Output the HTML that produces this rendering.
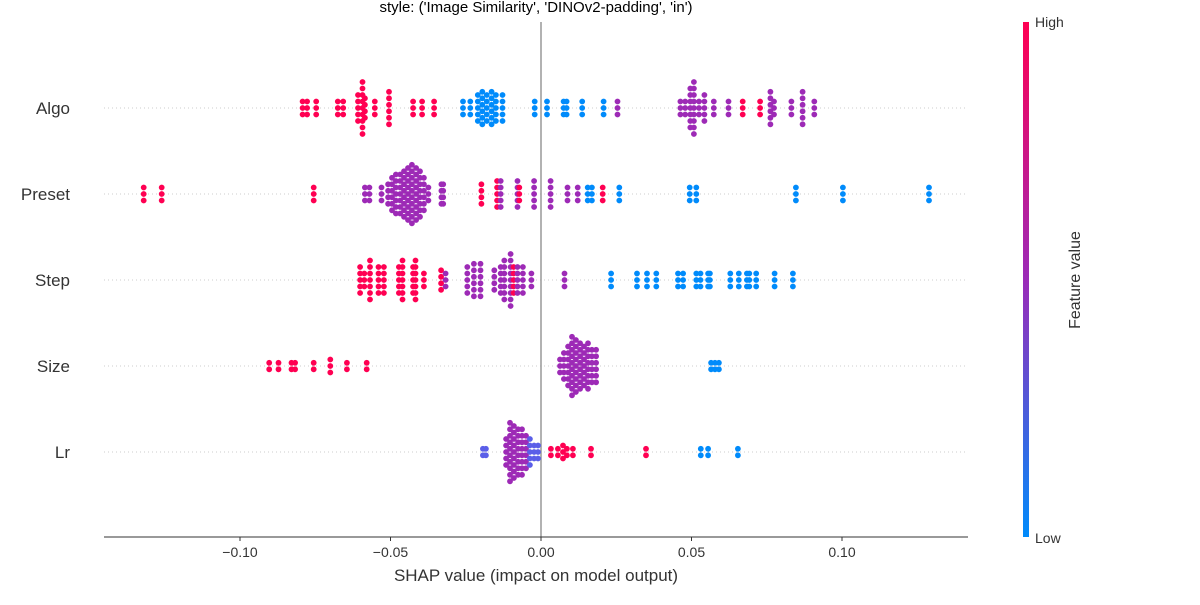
<!DOCTYPE html>
<html><head><meta charset="utf-8">
<style>
html,body{margin:0;padding:0;background:#fff;}
svg text{font-family:"Liberation Sans",sans-serif;}
</style></head>
<body>
<svg id="chart" width="1200" height="600" viewBox="0 0 1200 600" xmlns="http://www.w3.org/2000/svg">
<defs>
<linearGradient id="cbar" x1="0" y1="1" x2="0" y2="0">
<stop offset="0" stop-color="#008bfb"/>
<stop offset="0.5" stop-color="#9b2bb8"/>
<stop offset="1" stop-color="#ff0052"/>
</linearGradient>
</defs>
<text x="536" y="12" font-size="15" text-anchor="middle" fill="#000">style: ('Image Similarity', 'DINOv2-padding', 'in')</text>
<g id="grid"></g>
<line x1="541" y1="22" x2="541" y2="537" stroke="#999" stroke-width="1.5"/>
<g id="dots"></g>
<g id="axis"></g>
<rect x="1023" y="22" width="6" height="515" fill="url(#cbar)"/>
<text x="1035" y="27" font-size="14" fill="#333">High</text>
<text x="1035" y="543" font-size="14" fill="#333">Low</text>
<text x="1080" y="280" font-size="16" fill="#333" text-anchor="middle" transform="rotate(-90 1080 280)">Feature value</text>
<text x="536" y="581" font-size="17" fill="#333" text-anchor="middle">SHAP value (impact on model output)</text>
</svg>
<script>
const features = ["Algo","Preset","Step","Size","Lr"];
const xTicks = [-0.10,-0.05,0.00,0.05,0.10];
const xTickLabels = ["\u22120.10","\u22120.05","0.00","0.05","0.10"];

const algoX = [-0.0792,-0.0777,-0.0747,-0.0675,-0.0657,-0.0608,-0.0593,-0.0585,-0.0552,-0.0505,-0.0425,-0.0395,-0.0355,
 -0.0259,-0.0235,-0.0210,-0.0195,-0.0180,-0.0164,-0.0150,-0.0128,-0.0021,0.0020,0.0075,0.0085,0.0137,0.0208,0.0254,
 0.0463,0.0479,0.0496,0.0508,0.0525,0.0543,0.0574,0.0623,0.0670,0.0728,0.0762,0.0774,0.0832,0.0869,0.0908];
const algoN = [3,3,3,3,3,5,9,4,3,6,3,3,3, 3,3,5,6,5,6,5,5,3,3,3,3,3,3,3, 3,3,7,9,3,5,3,3,3,3,6,3,3,6,3];
const algoC = "rrrrrrrrrrrrr"+"bbbbbbbbbbbbbbp"+"pppppppprrppppp";

const presetX = [-0.132,-0.126,-0.0755,-0.0585,-0.0570,-0.0530,-0.0508,-0.0495,-0.0482,-0.0468,-0.0455,-0.0442,-0.0429,-0.0415,-0.0402,-0.0389,
 -0.0374,-0.0331,-0.0325,-0.0198,-0.0146,-0.0134,-0.0078,-0.0072,-0.0023,0.0032,0.0088,0.0122,0.0155,0.0169,0.0205,0.0260,0.0494,0.0516,0.0847,0.1003,0.1289];
const presetN = [3,3,3,3,3,3,4,6,7,7,8,9,10,9,8,6, 3,4,4,4,5,5,5,3,5,5,3,3,3,3,3,3,3,3,3,3,3];
const presetC = "rrrppppppppppppp"+"ppprrpprppppbbrbbbbbbbb";

const stepX = [-0.0601,-0.0587,-0.0568,-0.0540,-0.0522,-0.0472,-0.0460,-0.0425,-0.0417,-0.0389,-0.0332,-0.0317,-0.0245,-0.0223,-0.0201,-0.0155,-0.0134,-0.0122,-0.0101,-0.0091,-0.0078,-0.0060,-0.0032,0.0078,
 0.0233,0.0319,0.0352,0.0383,0.0455,0.0472,0.0516,0.0530,0.0555,0.0561,0.0629,0.0657,0.0684,0.0692,0.0715,0.0776,0.0837];
const stepN = [5,3,7,5,5,5,7,5,7,3,4,3,5,6,6,4,5,7,9,5,5,5,3,3, 3,3,3,3,3,3,3,3,3,3,3,3,3,3,3,3,3];
const stepC = "rrrrrrrrrrrpppppppprpppp"+"bbbbbbbbbbbbbbbbb";

const sizeX = [-0.0903,-0.0872,-0.0829,-0.0817,-0.0755,-0.0700,-0.0645,-0.0579,
 0.0063,0.0076,0.0090,0.0103,0.0116,0.0130,0.0143,0.0156,0.0169,0.0183, 0.0565,0.0578,0.0591];
const sizeN = [2,2,2,2,2,3,2,2, 3,5,7,10,9,8,7,8,6,6, 2,2,2];
const sizeC = "rrrrrrrr"+"pppppppppp"+"bbb";

const lrX = [-0.0193,-0.0183,-0.0116,-0.0103,-0.0090,-0.0076,-0.0063,-0.0050,-0.0037,-0.0023,-0.0010,
 0.0033,0.0056,0.0073,0.0086,0.0106,0.0166,0.0349,0.0531,0.0555,0.0654];
const lrN = [2,2,5,10,9,8,8,6,5,3,3, 2,2,3,2,2,2,2,2,2,2];
const lrC = "iippppppiii"+"rrrrrrrbbb";

const seriesX=[algoX,presetX,stepX,sizeX,lrX];
const seriesN=[algoN,presetN,stepN,sizeN,lrN];
const seriesC=[algoC,presetC,stepC,sizeC,lrC];

const NS="http://www.w3.org/2000/svg";
const xScale=v=>541+v*3010;
const rowY=i=>108+i*86;
const colorMap={r:"#ff0052",p:"#9d2ab6",b:"#008bfb",i:"#5a5ee8"};
const grid=document.getElementById('grid'), dots=document.getElementById('dots'), axis=document.getElementById('axis');

features.forEach((f,i)=>{
  const y=rowY(i);
  const g=document.createElementNS(NS,'line');
  g.setAttribute('x1',104);g.setAttribute('x2',968);g.setAttribute('y1',y);g.setAttribute('y2',y);
  g.setAttribute('stroke','#ccc');g.setAttribute('stroke-dasharray','1,3');g.setAttribute('stroke-width','1');
  
  
  grid.appendChild(g);
  const t=document.createElementNS(NS,'text');
  t.setAttribute('x',70);t.setAttribute('y',y+6);t.setAttribute('text-anchor','end');
  t.setAttribute('font-size','17');t.setAttribute('fill','#333');t.textContent=f;
  
  
  axis.appendChild(t);
  const xs=seriesX[i], ns=seriesN[i], cs=seriesC[i];
  xs.forEach((v,j)=>{
    const n=ns[j], cx=xScale(v);
    for(let k=0;k<n;k++){
      const c=document.createElementNS(NS,'circle');
      c.setAttribute('cx',cx.toFixed(1));
      c.setAttribute('cy',(y+(k-(n-1)/2)*6.5).toFixed(1));
      c.setAttribute('r','2.9');
      c.setAttribute('fill',colorMap[cs[j]]||colorMap.p);
      
      
      dots.appendChild(c);
    }
  });
});

const ax=document.createElementNS(NS,'line');
ax.setAttribute('x1',104);ax.setAttribute('x2',968);ax.setAttribute('y1',537);ax.setAttribute('y2',537);
ax.setAttribute('stroke','#333');ax.setAttribute('stroke-width','1');


axis.appendChild(ax);
xTicks.forEach((v,i)=>{
  const x=xScale(v);
  const tk=document.createElementNS(NS,'line');
  tk.setAttribute('x1',x);tk.setAttribute('x2',x);tk.setAttribute('y1',537);tk.setAttribute('y2',541);
  tk.setAttribute('stroke','#333');
  
  
  axis.appendChild(tk);
  const t=document.createElementNS(NS,'text');
  t.setAttribute('x',x);t.setAttribute('y',557);t.setAttribute('text-anchor','middle');
  t.setAttribute('font-size','14');t.setAttribute('fill','#333');t.textContent=xTickLabels[i];
  
  
  axis.appendChild(t);
});
</script>
</body></html>
